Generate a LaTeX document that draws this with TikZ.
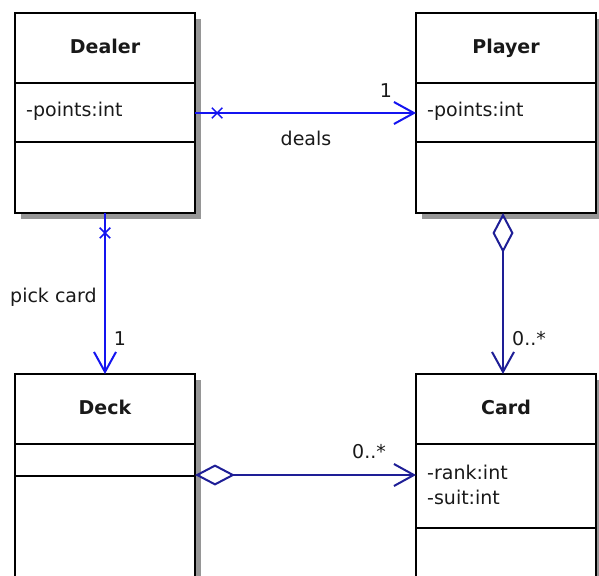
\documentclass[tikz,border=0pt]{standalone}
\usepackage{fontspec}
\setmainfont{DejaVu Sans}
\usetikzlibrary{arrows.meta,shapes.misc,shadows}
\definecolor{assocblue}{RGB}{20,20,240}
\definecolor{aggnavy}{RGB}{30,30,150}
\definecolor{shadowgray}{RGB}{150,150,150}
\definecolor{inktext}{RGB}{25,25,25}

\begin{document}
\begin{tikzpicture}[x=1pt,y=-1pt,
  classbox/.style={draw=black, line width=2pt, fill=white, rectangle,
    inner sep=0pt, outer sep=0pt, minimum width=180pt,
    drop shadow={shadow xshift=6pt, shadow yshift=-6pt, fill=shadowgray, opacity=1}},
  title/.style={font=\fontsize{19}{23}\selectfont\bfseries, anchor=base, inner sep=0pt, text=inktext},
  attr/.style={font=\fontsize{19}{23}\selectfont, anchor=base west, inner sep=0pt, text=inktext},
  lbl/.style={font=\fontsize{19}{23}\selectfont, anchor=base, inner sep=0pt, text=inktext},
  divider/.style={line width=2pt, black},
  assoc/.style={assocblue, line width=2pt},
  agg/.style={aggnavy, line width=2pt},
  opentip/.style={-{Straight Barb[length=20pt,width=22pt]}},
  aggtip/.style={{Diamond[open,length=40pt,width=21pt]}-{Straight Barb[length=20pt,width=22pt]}},
  xmark/.style={cross out, draw, line width=1.5pt, minimum width=9pt, minimum height=9pt, inner sep=0pt},
]
\useasboundingbox (0,0) rectangle (599,575);
\clip (0,0) rectangle (599,575);

% class boxes
\node[classbox, minimum height=200pt] (dealer) at (105,113) {};
\node[classbox, minimum height=200pt] (player) at (506,113) {};
\node[classbox, minimum height=216pt] (deck)   at (105,482) {};
\node[classbox, minimum height=216pt] (card)   at (506,482) {};

% compartment dividers
\foreach \b/\da/\db in {dealer/70/129, player/70/129, deck/70/102, card/70/154}{
  \draw[divider] ([yshift=-\da pt]\b.north west) -- ([yshift=-\da pt]\b.north east);
  \draw[divider] ([yshift=-\db pt]\b.north west) -- ([yshift=-\db pt]\b.north east);
}

% class names
\node[title] (dealername) at ([yshift=-41pt]dealer.north) {Dealer};
\node[title] (playername) at ([yshift=-41pt]player.north) {Player};
\node[title] (deckname)   at ([yshift=-40pt]deck.north)   {Deck};
\node[title] (cardname)   at ([yshift=-40pt]card.north)   {Card};

% attributes
\node[attr] (dealerpts) at ([xshift=11pt,yshift=-104pt]dealer.north west) {-points:int};
\node[attr] (playerpts) at ([xshift=11pt,yshift=-104pt]player.north west) {-points:int};
\node[attr] (cardrank)  at ([xshift=11pt,yshift=-105pt]card.north west) {-rank:int};
\node[attr] (cardsuit)  at ([xshift=11pt,yshift=-130pt]card.north west) {-suit:int};

% associations
\draw[assoc, opentip] (dealer.east) -- node[xmark, pos=0.1] (dealsx) {} (player.west);
\draw[assoc, opentip] (dealer.south) -- node[xmark, pos=0.124] (pickx) {} (deck.north);

% aggregations
\draw[agg, aggtip] ([xshift=-3pt]player.south) -- ([xshift=-3pt]card.north);
\draw[agg, aggtip] ([yshift=-101pt]deck.north east) -- ([yshift=-101pt]card.north west);

% connector labels
\node[lbl] (dealsone) at (386,98) {1};
\node[lbl] (dealslbl) at (306,145) {deals};
\node[lbl, anchor=base west] (picklbl) at (10,302) {pick card};
\node[lbl] (pickone) at (120,345) {1};
\node[lbl, anchor=base west] (handmult) at (512,345) {0..*};
\node[lbl, anchor=base west] (deckmult) at (352,458) {0..*};
\end{tikzpicture}
\end{document}
